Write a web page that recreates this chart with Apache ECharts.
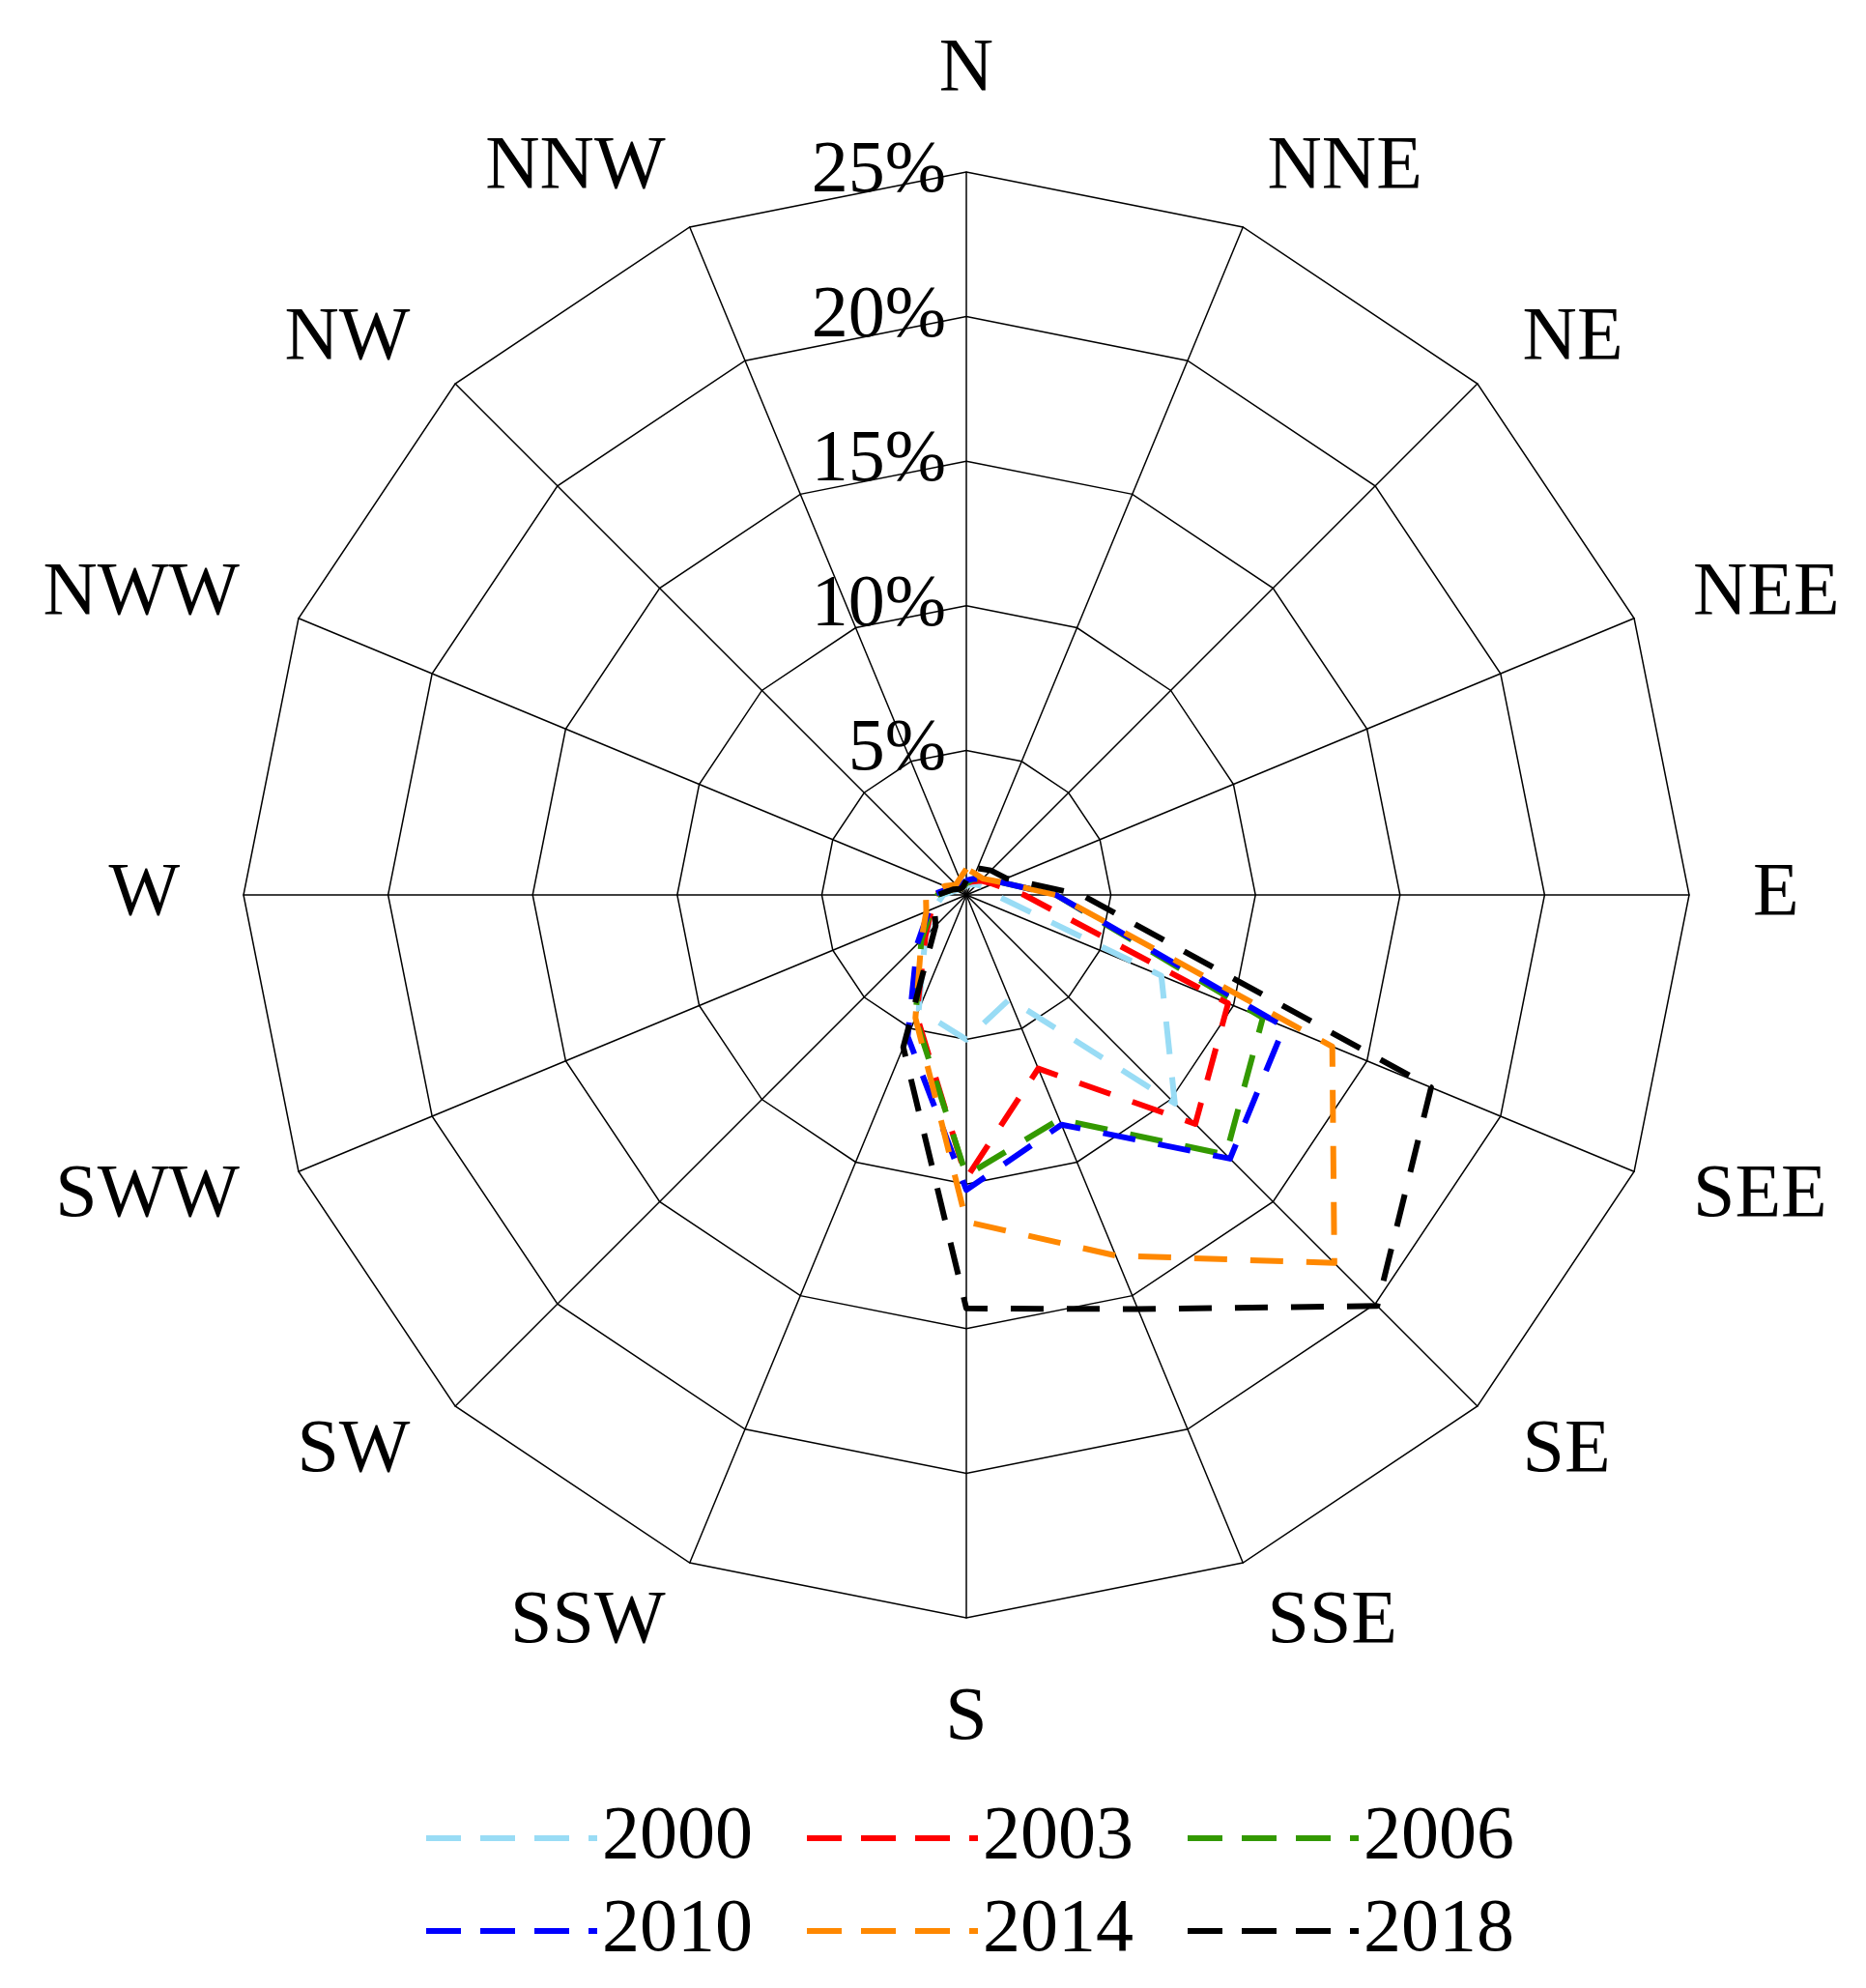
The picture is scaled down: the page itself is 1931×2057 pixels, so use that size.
<!DOCTYPE html>
<html><head><meta charset="utf-8">
<script src="https://cdn.jsdelivr.net/npm/echarts@6/dist/echarts.min.js"></script>
<style>html,body{margin:0;padding:0;background:#fff}#c{width:1931px;height:2057px}</style>
</head><body><div id="c"></div>
<script>
// clockwise from north
const directions = ['N','NNE','NE','NEE','E','SEE','SE','SSE','S','SSW','SW','SWW','W','NWW','NW','NNW'];
const years = ['2000','2003','2006','2010','2014','2018'];
const v2000 = [0.3,0.4,0.5,0.7,1.0,7.3,10.2,3.9,5.0,4.3,2.0,1.2,0.8,0.4,0.3,0.3];
const v2003 = [0.4,0.5,0.7,1.0,2.0,9.8,11.2,6.5,9.8,4.5,2.0,1.3,1.2,0.5,0.3,0.3];
const v2006 = [0.4,0.6,0.8,1.2,3.1,11.1,12.7,8.4,9.7,4.6,2.2,1.3,1.0,0.5,0.3,0.3];
const v2010 = [0.5,0.6,0.8,1.2,3.1,11.9,12.9,8.6,10.2,5.3,2.4,1.4,1.2,0.6,0.4,0.4];
const v2014 = [0.9,0.8,0.8,1.2,3.1,13.7,18.0,13.5,11.3,4.6,2.2,1.5,1.4,0.8,0.5,0.6];
const v2018 = [0.5,1.0,1.2,1.5,4.0,17.4,20.1,15.5,14.3,5.7,1.5,1.2,1.0,0.5,0.3,0.3];
const radialTicks = [5,10,15,20,25];
const colors = ['#99dcf5','#ff0000','#339900','#0000ff','#ff8800','#000000'];

const values = [v2000,v2003,v2006,v2010,v2014,v2018];
// ECharts radar runs counterclockwise: reorder N, NNW, NW, ...
const ccw = arr => [arr[0]].concat(arr.slice(1).reverse());
const font = 'Liberation Serif';
const dashIcon = 'path://M0,0h36v6h-36z M56,0h36v6h-36z M112,0h36v6h-36z M168,0h9v6h-9z';

const chart = echarts.init(document.getElementById('c'));
chart.setOption({
  backgroundColor:'#fff',
  animation:false,
  color: colors,
  radar:{
    center:[1000,926], radius:748, startAngle:90, shape:'polygon', splitNumber:5,
    indicator: ccw(directions).map(d=>({name:d, min:0, max:radialTicks[radialTicks.length-1]})),
    axisName:{color:'#000', fontFamily:font, fontSize:78},
    nameGap:66,
    axisLine:{lineStyle:{color:'#000', width:1.5}},
    splitLine:{lineStyle:{color:'#000', width:1.5}},
    splitArea:{show:false},
    axisTick:{show:false}, axisLabel:{show:false}
  },
  polar:{center:[1000,926], radius:748},
  angleAxis:{show:false, startAngle:90, min:0, max:360},
  radiusAxis:{min:0, max:25, interval:5, axisLine:{show:false}, axisTick:{show:false}, splitLine:{show:false},
    axisLabel:{showMinLabel:false, formatter:'{value}%', color:'#000', fontFamily:font, fontSize:76, margin:21}},
  legend:[
    {data:years.slice(0,3), left:436, top:1858, itemWidth:177, itemHeight:7, itemGap:56, icon:dashIcon,
     textStyle:{fontFamily:font, fontSize:78, color:'#000', padding:[0,0,0,0]}},
    {data:years.slice(3), left:436, top:1954, itemWidth:177, itemHeight:7, itemGap:56, icon:dashIcon,
     textStyle:{fontFamily:font, fontSize:78, color:'#000', padding:[0,0,0,0]}}
  ],
  series: years.map((y,i)=>({
    type:'radar', name:y, symbol:'none',
    lineStyle:{color:colors[i], width:6, type:[34,24]},
    itemStyle:{color:colors[i]},
    data:[{name:y, value:ccw(values[i])}]
  })).concat([{type:'scatter', coordinateSystem:'polar', data:[], silent:true}])
});
</script></body></html>
